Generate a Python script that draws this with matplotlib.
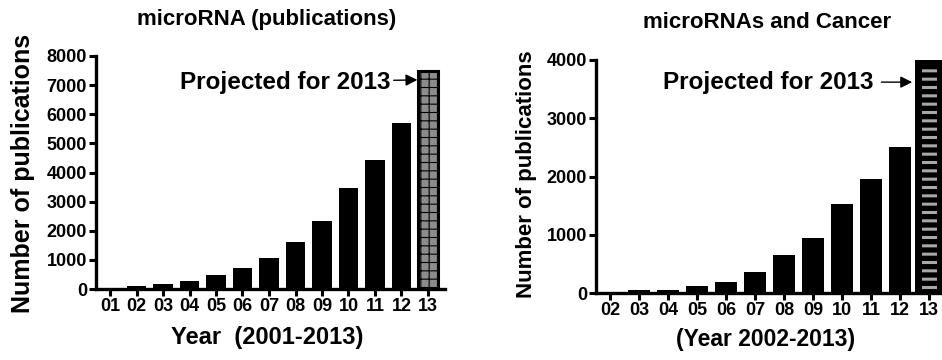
import matplotlib
matplotlib.use("Agg")
import matplotlib.pyplot as plt

plt.rcParams['font.family'] = ['Liberation Sans', 'DejaVu Sans']

# left panel: all microRNA publications
years_all = ['01', '02', '03', '04', '05', '06', '07', '08', '09', '10', '11', '12', '13']
pubs_all = [15, 90, 170, 260, 480, 710, 1060, 1630, 2330, 3470, 4430, 5700, 7500]

# right panel: microRNAs and cancer
years_cancer = ['02', '03', '04', '05', '06', '07', '08', '09', '10', '11', '12', '13']
pubs_cancer = [10, 50, 50, 115, 190, 355, 650, 950, 1535, 1955, 2505, 4000]

fig = plt.figure(figsize=(9.42, 3.6), dpi=100)
ax1 = fig.add_axes([96/942, 1-289/360, (445-96)/942, (289-56)/360])
ax2 = fig.add_axes([596/942, 1-293/360, (942-596)/942, (293-60)/360])


def style(ax):
    for s in ['top', 'right']:
        ax.spines[s].set_visible(False)
    for s in ['left', 'bottom']:
        ax.spines[s].set_linewidth(2.4)
    ax.tick_params(width=2.2, length=5, labelsize=13, pad=1.5)
    for t in ax.get_xticklabels() + ax.get_yticklabels():
        t.set_fontweight('bold')


# ---- left
x1 = list(range(1, len(years_all) + 1))
ax1.bar(x1[:-1], pubs_all[:-1], width=0.75, color='black')
b = ax1.bar(x1[-1], pubs_all[-1], width=0.75, color='#8c8c8c', edgecolor='black',
            hatch='++', linewidth=0)
try:
    b[0].set_hatch_linewidth(0.8)
except AttributeError:
    pass
ax1.bar(x1[-1], pubs_all[-1], width=0.75, fill=False, edgecolor='black', linewidth=2.2)
ax1.set_xlim(1 - 14/26.5, 13 + 17/26.5)
ax1.set_ylim(0, 8000)
ax1.set_yticks(range(0, 8001, 1000))
ax1.set_xticks(x1)
ax1.set_xticklabels(years_all)
style(ax1)
ax1.set_ylabel('Number of publications', fontsize=18, fontweight='bold')
ax1.yaxis.set_label_coords(-0.175, 0.496)
ax1.text(0.49, -0.21, 'Year  (2001-2013)', transform=ax1.transAxes, ha='center', va='center',
         fontsize=17, fontweight='bold')
ax1.text(0.49, 1.155, 'microRNA (publications)', transform=ax1.transAxes, ha='center', va='center',
         fontsize=16, fontweight='bold')
ax1.annotate('Projected for 2013', xy=(12.6, 7180), xytext=(11.6, 7100), ha='right', va='center',
             fontsize=17.5, fontweight='bold',
             arrowprops=dict(arrowstyle='-|>', color='black', lw=1, shrinkA=0, shrinkB=0))

# ---- right
x2 = list(range(2, len(years_cancer) + 2))
ax2.bar(x2[:-1], pubs_cancer[:-1], width=0.79, color='black')
b = ax2.bar(x2[-1], pubs_cancer[-1], width=0.79, color='black', edgecolor='#a8a8a8',
            hatch='--', linewidth=0)
try:
    b[0].set_hatch_linewidth(2.2)
except AttributeError:
    pass
ax2.bar(x2[-1], pubs_cancer[-1], width=0.79, fill=False, edgecolor='black', linewidth=5)
ax2.set_xlim(2 - 14/29, 13 + 13/29)
ax2.set_ylim(0, 4000)
ax2.set_yticks(range(0, 4001, 1000))
ax2.set_xticks(x2)
ax2.set_xticklabels(years_cancer)
style(ax2)
ax2.set_ylabel('Number of publications', fontsize=16, fontweight='bold')
ax2.yaxis.set_label_coords(-0.171, 0.51)
ax2.text(0.49, -0.20, '(Year 2002-2013)', transform=ax2.transAxes, ha='center', va='center',
         fontsize=16.5, fontweight='bold')
ax2.text(0.495, 1.159, 'microRNAs and Cancer', transform=ax2.transAxes, ha='center', va='center',
         fontsize=16, fontweight='bold')
ax2.annotate('Projected for 2013', xy=(12.42, 3620), xytext=(11.07, 3620), ha='right', va='center',
             fontsize=17.5, fontweight='bold',
             arrowprops=dict(arrowstyle='-|>', color='black', lw=1, shrinkA=4, shrinkB=0))

fig.savefig('out.png', dpi=100)
